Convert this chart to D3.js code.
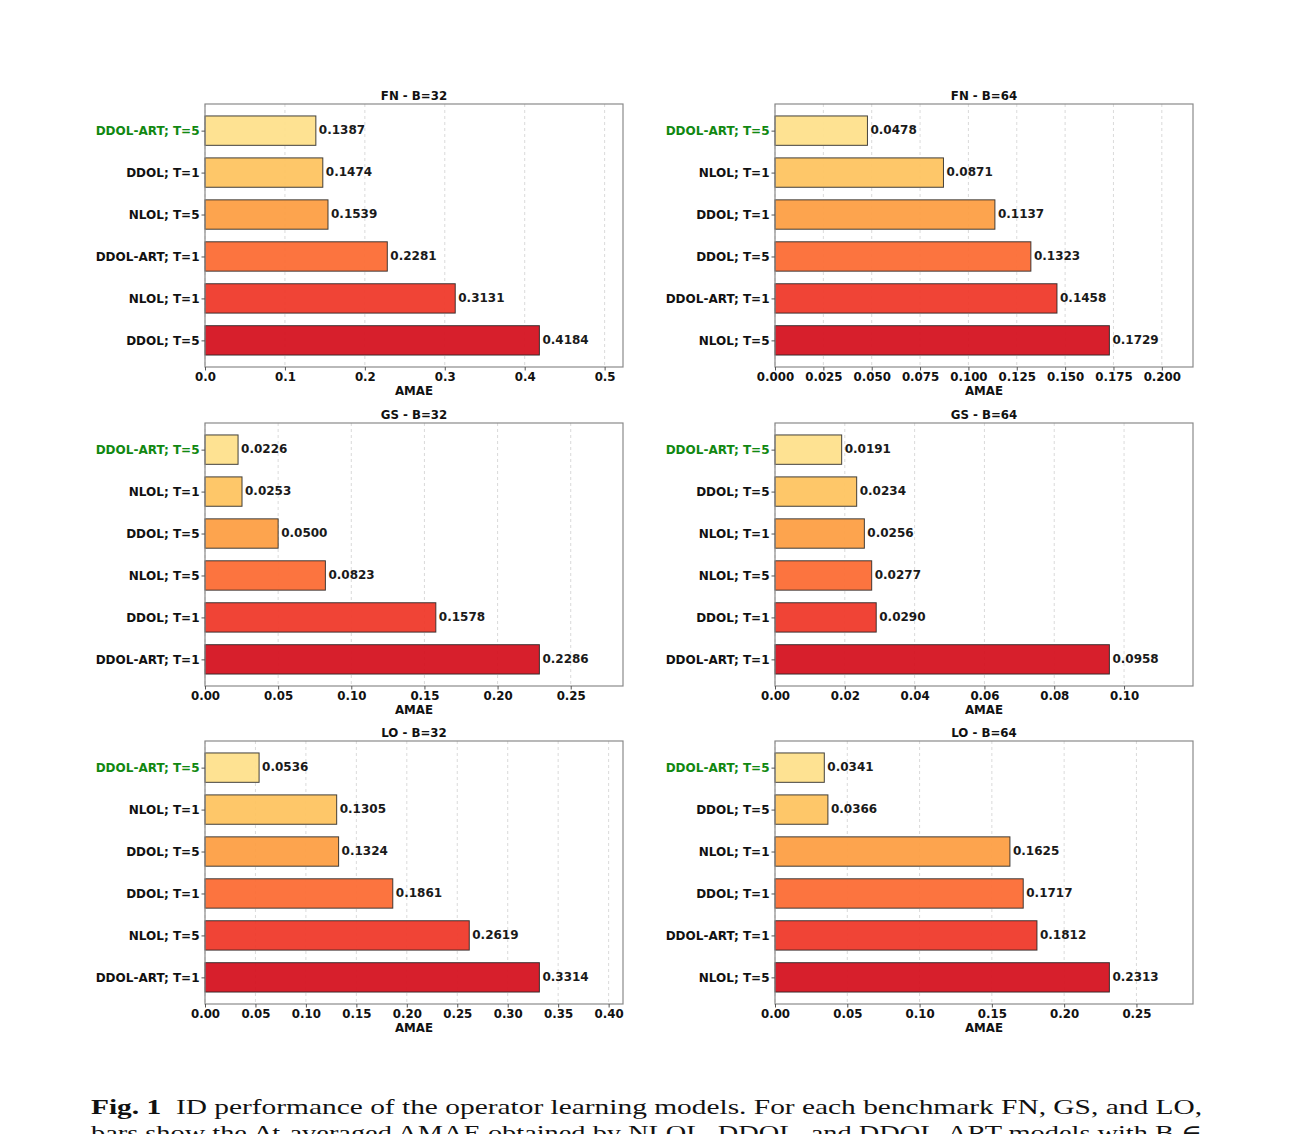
<!DOCTYPE html>
<html>
<head>
<meta charset="utf-8">
<script src="https://cdn.jsdelivr.net/npm/d3@7"></script>
<style>
html,body{margin:0;padding:0;background:#fff;}
svg{display:block;}
</style>
</head>
<body>
<script>
// ---------- data ----------
const titles = ["FN - B=32", "FN - B=64", "GS - B=32", "GS - B=64", "LO - B=32", "LO - B=64"];

const labelsFN32 = ["DDOL-ART; T=5", "DDOL; T=1", "NLOL; T=5", "DDOL-ART; T=1", "NLOL; T=1", "DDOL; T=5"];
const valuesFN32 = [0.1387, 0.1474, 0.1539, 0.2281, 0.3131, 0.4184];
const ticksFN32 = [0.0, 0.1, 0.2, 0.3, 0.4, 0.5];

const labelsFN64 = ["DDOL-ART; T=5", "NLOL; T=1", "DDOL; T=1", "DDOL; T=5", "DDOL-ART; T=1", "NLOL; T=5"];
const valuesFN64 = [0.0478, 0.0871, 0.1137, 0.1323, 0.1458, 0.1729];
const ticksFN64 = [0.000, 0.025, 0.050, 0.075, 0.100, 0.125, 0.150, 0.175, 0.200];

const labelsGS32 = ["DDOL-ART; T=5", "NLOL; T=1", "DDOL; T=5", "NLOL; T=5", "DDOL; T=1", "DDOL-ART; T=1"];
const valuesGS32 = [0.0226, 0.0253, 0.0500, 0.0823, 0.1578, 0.2286];
const ticksGS32 = [0.00, 0.05, 0.10, 0.15, 0.20, 0.25];

const labelsGS64 = ["DDOL-ART; T=5", "DDOL; T=5", "NLOL; T=1", "NLOL; T=5", "DDOL; T=1", "DDOL-ART; T=1"];
const valuesGS64 = [0.0191, 0.0234, 0.0256, 0.0277, 0.0290, 0.0958];
const ticksGS64 = [0.00, 0.02, 0.04, 0.06, 0.08, 0.10];

const labelsLO32 = ["DDOL-ART; T=5", "NLOL; T=1", "DDOL; T=5", "DDOL; T=1", "NLOL; T=5", "DDOL-ART; T=1"];
const valuesLO32 = [0.0536, 0.1305, 0.1324, 0.1861, 0.2619, 0.3314];
const ticksLO32 = [0.00, 0.05, 0.10, 0.15, 0.20, 0.25, 0.30, 0.35, 0.40];

const labelsLO64 = ["DDOL-ART; T=5", "DDOL; T=5", "NLOL; T=1", "DDOL; T=1", "DDOL-ART; T=1", "NLOL; T=5"];
const valuesLO64 = [0.0341, 0.0366, 0.1625, 0.1717, 0.1812, 0.2313];
const ticksLO64 = [0.00, 0.05, 0.10, 0.15, 0.20, 0.25];

const tickDecimals = [1, 3, 2, 2, 2, 2];

const captionLine1 = "ID performance of the operator learning models. For each benchmark FN, GS, and LO,";
const captionLine2 = "bars show the Δt-averaged AMAE obtained by NLOL, DDOL, and DDOL-ART models with B ∈";

// ---------- layout ----------
const W = 1293, H = 1134;
const colX = [205, 775];
const rowY = [104, 423, 741];
const pw = 418, ph = 263;
const barColors = ["#fee08b", "#fec460", "#fd9e43", "#fc6b33", "#ef3829", "#d4111f"];
const FONT = "'DejaVu Sans', sans-serif";

const panels = [
  {labels: labelsFN32, values: valuesFN32, ticks: ticksFN32},
  {labels: labelsFN64, values: valuesFN64, ticks: ticksFN64},
  {labels: labelsGS32, values: valuesGS32, ticks: ticksGS32},
  {labels: labelsGS64, values: valuesGS64, ticks: ticksGS64},
  {labels: labelsLO32, values: valuesLO32, ticks: ticksLO32},
  {labels: labelsLO64, values: valuesLO64, ticks: ticksLO64}
];

const svg = d3.select("body").append("svg").attr("width", W).attr("height", H);

panels.forEach((p, i) => {
  const x0 = colX[i % 2], y0 = rowY[Math.floor(i / 2)];
  const g = svg.append("g").attr("transform", `translate(${x0},${y0})`);
  const xMax = d3.max(p.values) * 1.25;
  const x = d3.scaleLinear().domain([0, xMax]).range([0, pw]);
  const y = d3.scaleLinear().domain([-0.635, 5.635]).range([0, ph]);
  const bh = y(0.35) - y(-0.35);

  // grid
  g.append("g").selectAll("line").data(p.ticks).join("line")
    .attr("x1", d => x(d)).attr("x2", d => x(d))
    .attr("y1", 0).attr("y2", ph)
    .attr("stroke", "#b0b0b0").attr("stroke-opacity", 0.6)
    .attr("stroke-width", 0.8).attr("stroke-dasharray", "3,3");

  // bars
  g.append("g").selectAll("rect").data(p.values).join("rect")
    .attr("x", x(0))
    .attr("y", (d, j) => y(j) - bh / 2)
    .attr("width", d => x(d) - x(0))
    .attr("height", bh)
    .attr("fill", (d, j) => barColors[j])
    .attr("fill-opacity", 0.94)
    .attr("stroke", "#222").attr("stroke-opacity", 0.85).attr("stroke-width", 1);

  // value labels
  g.append("g").selectAll("text").data(p.values).join("text")
    .attr("x", d => x(d) + 3)
    .attr("y", (d, j) => y(j))
    .attr("dy", "0.32em")
    .attr("font-family", FONT).attr("font-weight", "bold").attr("font-size", 12)
    .attr("fill", "#1a1a1a")
    .text(d => d.toFixed(4));

  // frame
  g.append("rect").attr("x", 0).attr("y", 0).attr("width", pw).attr("height", ph)
    .attr("fill", "none").attr("stroke", "#8a8a8a").attr("stroke-width", 1.2);

  // x axis
  const xa = g.append("g").attr("transform", `translate(0,${ph})`)
    .call(d3.axisBottom(x).tickValues(p.ticks).tickFormat(d => d.toFixed(tickDecimals[i])).tickSize(3.5).tickPadding(2));
  xa.select(".domain").remove();
  xa.selectAll("line").attr("stroke", "#555");
  xa.selectAll("text").attr("font-family", FONT).attr("font-weight", "bold").attr("font-size", 11.8).attr("fill", "#111");

  // y axis
  const ya = g.append("g")
    .call(d3.axisLeft(y).tickValues([0,1,2,3,4,5]).tickFormat(j => p.labels[j]).tickSize(3.5).tickPadding(2));
  ya.select(".domain").remove();
  ya.selectAll("line").attr("stroke", "#555");
  ya.selectAll("text").attr("font-family", FONT).attr("font-weight", "bold").attr("font-size", 12)
    .attr("fill", (j) => j === 0 ? "#118811" : "#111");

  // title
  g.append("text").attr("x", pw / 2).attr("y", -4).attr("text-anchor", "middle")
    .attr("font-family", FONT).attr("font-weight", "bold").attr("font-size", 11.8).attr("fill", "#111")
    .text(titles[i]);
  // x label
  g.append("text").attr("x", pw / 2).attr("y", ph + 28).attr("text-anchor", "middle")
    .attr("font-family", FONT).attr("font-weight", "bold").attr("font-size", 11.8).attr("fill", "#111")
    .text("AMAE");
});

// caption
const cap = svg.append("text").attr("x", 91).attr("y", 1114)
  .attr("font-family", "'Liberation Serif', 'DejaVu Serif', serif").attr("font-size", 22).attr("fill", "#111")
  .attr("textLength", 1111).attr("lengthAdjust", "spacingAndGlyphs");
cap.append("tspan").attr("font-weight", "bold").text("Fig. 1");
cap.append("tspan").text("\u2002" + captionLine1);

svg.append("text").attr("x", 91).attr("y", 1140)
  .attr("font-family", "'Liberation Serif', 'DejaVu Serif', serif").attr("font-size", 22).attr("fill", "#111")
  .attr("textLength", 1111).attr("lengthAdjust", "spacingAndGlyphs")
  .text(captionLine2);
</script>
</body>
</html>
